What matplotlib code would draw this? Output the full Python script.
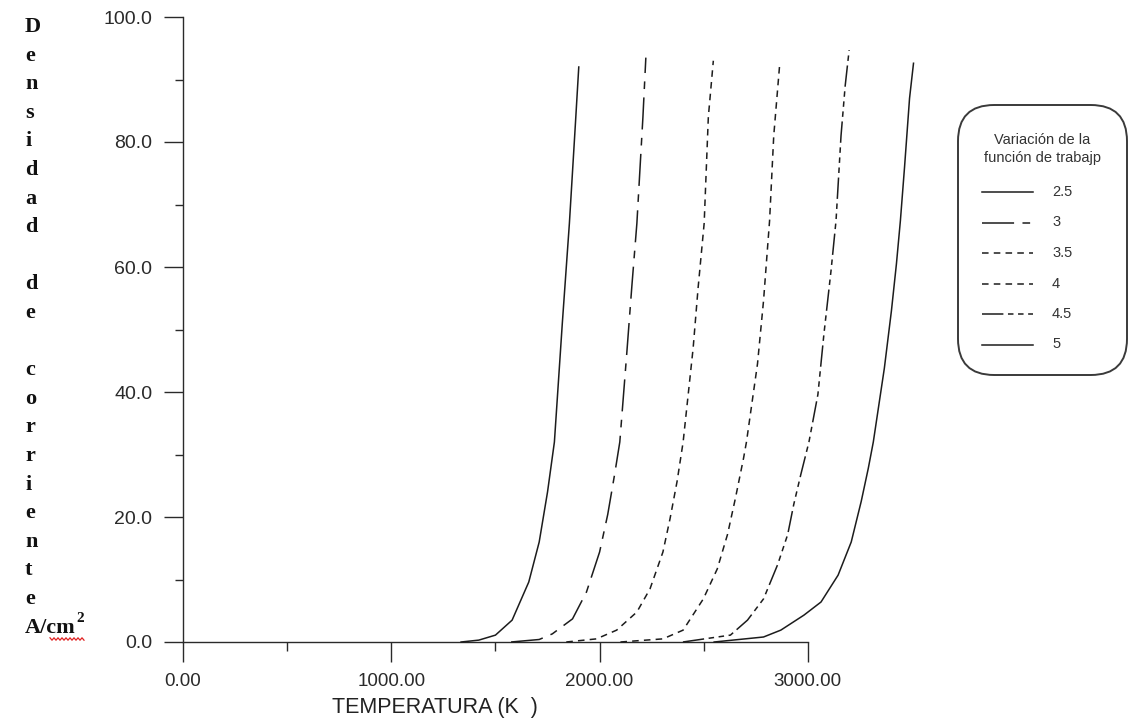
import numpy as np
import matplotlib
matplotlib.use("Agg")
import matplotlib.pyplot as plt
from matplotlib.lines import Line2D
from matplotlib.patches import FancyBboxPatch
from matplotlib.ticker import FixedLocator, FormatStrFormatter

# --- data (temperature K, current density A/cm2) ---
LABELS = ["2.5", "3", "3.5", "4", "4.5", "5"]

T_25 = [1335, 1420, 1500, 1580, 1660, 1710, 1750, 1783, 1821, 1855, 1884, 1900]
J_25 = [0.0, 0.3, 1.1, 3.5, 9.6, 16.0, 24.0, 32.0, 51.0, 67.0, 83.0, 92.0]

T_30 = [1575, 1710, 1773, 1870, 1937, 2000, 2039, 2072, 2097, 2130, 2155, 2179, 2208, 2222]
J_30 = [0.0, 0.4, 1.3, 3.7, 8.0, 14.4, 20.4, 26.8, 32.0, 46.0, 57.0, 67.0, 84.0, 93.5]

T_35 = [1840, 1985, 2082, 2179, 2242, 2304, 2338, 2372, 2401, 2449, 2473, 2502, 2522, 2546]
J_35 = [0.0, 0.5, 1.9, 4.8, 8.5, 14.4, 19.7, 25.7, 32.0, 47.0, 56.7, 67.0, 84.0, 93.0]

T_40 = [2100, 2304, 2401, 2498, 2565, 2614, 2652, 2691, 2705, 2758, 2787, 2816, 2836, 2865]
J_40 = [0.0, 0.5, 1.9, 6.9, 11.7, 17.2, 23.0, 29.4, 32.0, 44.5, 54.6, 67.4, 81.0, 92.6]

T_45 = [2400, 2628, 2710, 2787, 2855, 2903, 2932, 2966, 3005, 3048, 3077, 3111, 3135, 3159, 3179, 3198]
J_45 = [0.0, 1.1, 3.5, 6.9, 12.4, 17.2, 22.0, 26.8, 32.0, 39.6, 49.3, 59.4, 67.4, 81.0, 89.0, 94.7]

T_50 = [2550, 2787, 2870, 2981, 3063, 3145, 3208, 3256, 3290, 3314, 3367, 3401, 3425, 3444, 3464, 3488, 3507]
J_50 = [0.0, 0.8, 1.9, 4.3, 6.4, 10.7, 16.0, 22.5, 27.8, 32.0, 43.8, 53.0, 60.5, 67.4, 76.0, 87.0, 92.6]

SERIES_T = [T_25, T_30, T_35, T_40, T_45, T_50]
SERIES_J = [J_25, J_30, J_35, J_40, J_45, J_50]

X_TICKS = [0, 1000, 2000, 3000]
X_MINOR = [500, 1500, 2500]
Y_TICKS = [0, 20, 40, 60, 80, 100]
Y_MINOR = [10, 30, 50, 70, 90]

YLABEL = list("Densidad") + [""] + list("de") + [""] + list("corriente")

# line styles (dash patterns in points)
STYLES = [
    "-",
    (0, (21, 5.5, 5, 5.5)),
    (0, (4.3, 3.4)),
    (0, (4.3, 3.4)),
    (0, (14, 3, 3.6, 3, 3.6, 3, 3.6, 3)),
    "-",
]

INK = "#1c1c1c"
W_PX, H_PX = 1130, 720


def fx(x):
    return x / W_PX


def fy(y):
    return 1 - y / H_PX


fig = plt.figure(figsize=(W_PX / 100, H_PX / 100), dpi=100)
x0_px, x1_px = 183, 183 + 0.2083 * 3600
y0_px, y1_px = 642, 17
ax = fig.add_axes([fx(x0_px), fy(y0_px), fx(x1_px - x0_px), (y0_px - y1_px) / H_PX])
ax.set_xlim(0, 3600)
ax.set_ylim(0, 100)

for t, j, ls in zip(SERIES_T, SERIES_J, STYLES):
    ax.plot(t, j, color=INK, lw=1.1, linestyle=ls, clip_on=False, zorder=3)

for side in ("top", "right"):
    ax.spines[side].set_visible(False)
ax.spines["bottom"].set_bounds(0, 3000)
ax.spines["left"].set_bounds(0, 100)
for side in ("bottom", "left"):
    ax.spines[side].set_color("#2a2a2a")
    ax.spines[side].set_linewidth(1.0)

ax.set_xticks(X_TICKS)
ax.set_yticks(Y_TICKS)
ax.xaxis.set_minor_locator(FixedLocator(X_MINOR))
ax.yaxis.set_minor_locator(FixedLocator(Y_MINOR))
ax.xaxis.set_major_formatter(FormatStrFormatter("%.2f"))
ax.yaxis.set_major_formatter(FormatStrFormatter("%.1f"))
ax.tick_params(axis="x", which="major", direction="out", length=14.4, width=1.0,
               color="#2a2a2a", pad=8, labelsize=13.5, labelcolor="#2a2a2a")
ax.tick_params(axis="x", which="minor", direction="out", length=6.5, width=1.0, color="#2a2a2a")
ax.tick_params(axis="y", which="major", direction="out", length=14, width=1.0,
               color="#2a2a2a", pad=8, labelsize=14, labelcolor="#2a2a2a")
ax.tick_params(axis="y", which="minor", direction="out", length=5.5, width=1.0, color="#2a2a2a")
for lab in ax.get_xticklabels() + ax.get_yticklabels():
    lab.set_family("Liberation Sans")

fig.text(fx(332), fy(707), "TEMPERATURA (K  )", family="Liberation Sans", fontsize=15.5,
         ha="left", va="center", color="#222222")

# stacked y label
for i, ch in enumerate(YLABEL):
    if ch:
        fig.text(fx(25), fy(27 + i * 28.6), ch, family="Liberation Serif", fontsize=16,
                 fontweight="bold", ha="left", va="center", color="#111111")
unit = fig.text(fx(25), fy(628), "A/cm", family="Liberation Serif", fontsize=16,
                fontweight="bold", ha="left", va="center", color="#111111")
fig.canvas.draw()
ub = unit.get_window_extent()
fig.text(fx(ub.x1 + 1), fy(619), "2", family="Liberation Serif", fontsize=11,
         fontweight="bold", ha="left", va="center", color="#111111")
sx = np.arange(50, 86, 2.0)
sy = 639 + np.where(np.arange(sx.size) % 2 == 0, -1.2, 1.2)
fig.add_artist(Line2D(fx(sx), fy(sy), color="#e02020", lw=0.9))

# legend drawn as a rounded box
box = FancyBboxPatch((fx(958), fy(375)), fx(169), (375 - 105) / H_PX,
                     boxstyle="round,pad=0,rounding_size=0.032",
                     transform=fig.transFigure, facecolor="white",
                     edgecolor="#3a3a3a", lw=1.4, mutation_aspect=W_PX / H_PX)
fig.add_artist(box)
fig.text(fx(1042), fy(140), "Variación de la", family="Liberation Sans", fontsize=10.5,
         ha="center", va="center", color="#333333")
fig.text(fx(1042), fy(158), "función de trabajp", family="Liberation Sans", fontsize=10.5,
         ha="center", va="center", color="#333333")
for i, (lab, ls) in enumerate(zip(LABELS, STYLES)):
    yy = 192 + i * 30.5
    fig.add_artist(Line2D([fx(982), fx(1033)], [fy(yy), fy(yy)], color=INK, lw=1.1, linestyle=ls))
    fig.text(fx(1052), fy(yy), lab, family="Liberation Sans", fontsize=10.5,
             ha="left", va="center", color="#333333")

fig.savefig("out.png", dpi=100)
